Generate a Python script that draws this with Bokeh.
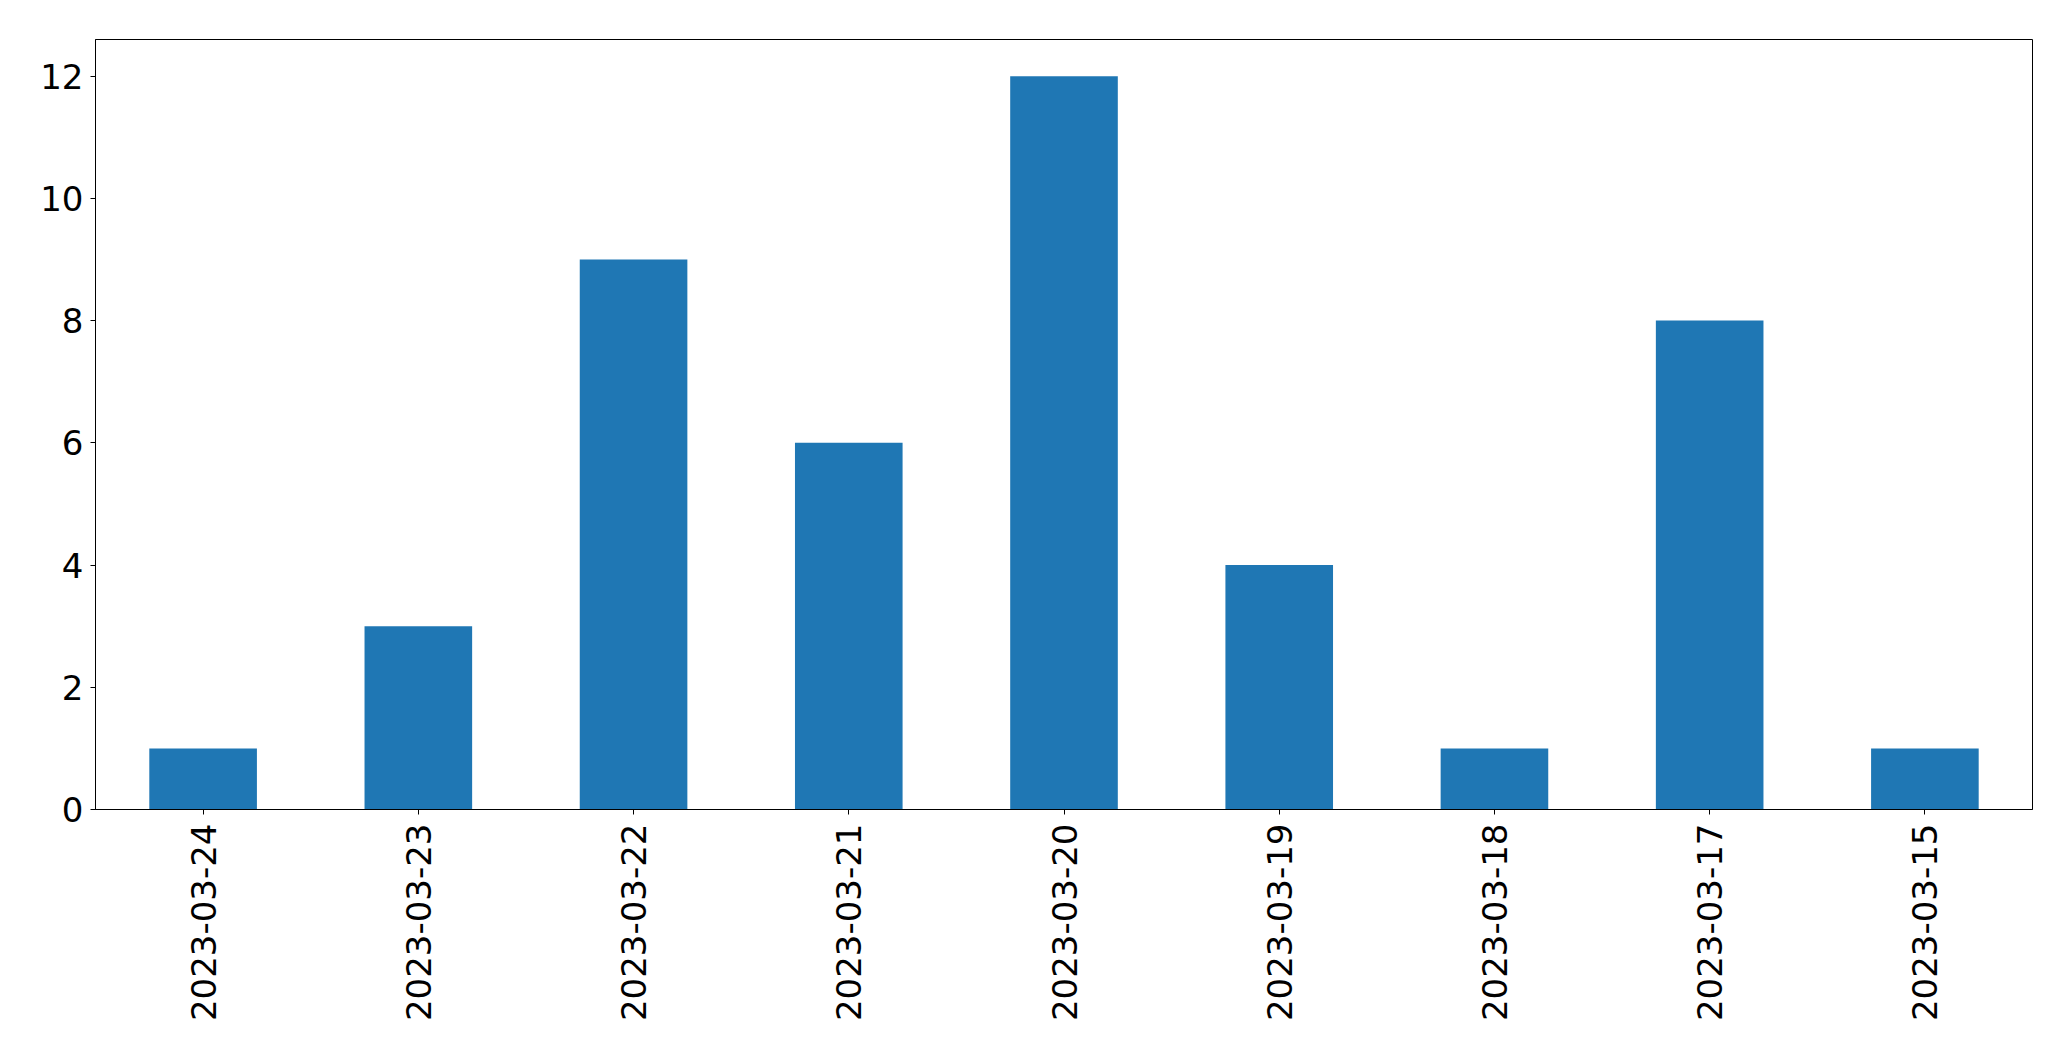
import math
from bokeh.plotting import figure
from bokeh.models import FactorRange, Range1d, FixedTicker, ColumnDataSource
from bokeh.embed import file_html
from bokeh.resources import INLINE

dates = ["2023-03-24", "2023-03-23", "2023-03-22", "2023-03-21", "2023-03-20",
         "2023-03-19", "2023-03-18", "2023-03-17", "2023-03-15"]
counts = [1, 3, 9, 6, 12, 4, 1, 8, 1]
y_ticks = [0, 2, 4, 6, 8, 10, 12]

src = ColumnDataSource(dict(date=dates, count=counts))

p = figure(
    x_range=FactorRange(factors=dates),
    y_range=Range1d(0, 12.6),
    frame_width=1937, frame_height=770,
    min_border_left=95, min_border_top=39, min_border_right=20, min_border_bottom=230,
    output_backend="svg", toolbar_location=None,
)
p.vbar(x="date", top="count", width=0.5, source=src, color="#1f77b4", line_color=None)

p.xgrid.visible = False
p.ygrid.visible = False
p.outline_line_color = "black"
p.outline_line_width = 1
p.outline_line_alpha = 1

for ax in (p.xaxis[0], p.yaxis[0]):
    ax.axis_line_color = "black"
    ax.major_tick_line_color = "black"
    ax.major_tick_out = 5
    ax.major_tick_in = 0
    ax.minor_tick_line_color = None
    ax.major_label_text_font = "DejaVu Sans"
    ax.major_label_text_font_size = "34px"
    ax.major_label_text_color = "black"

p.yaxis[0].ticker = FixedTicker(ticks=y_ticks)
p.yaxis[0].major_label_standoff = 7
p.xaxis[0].major_label_orientation = math.pi / 2
p.xaxis[0].major_label_standoff = 9

open("out.html", "w").write(file_html(p, INLINE))
